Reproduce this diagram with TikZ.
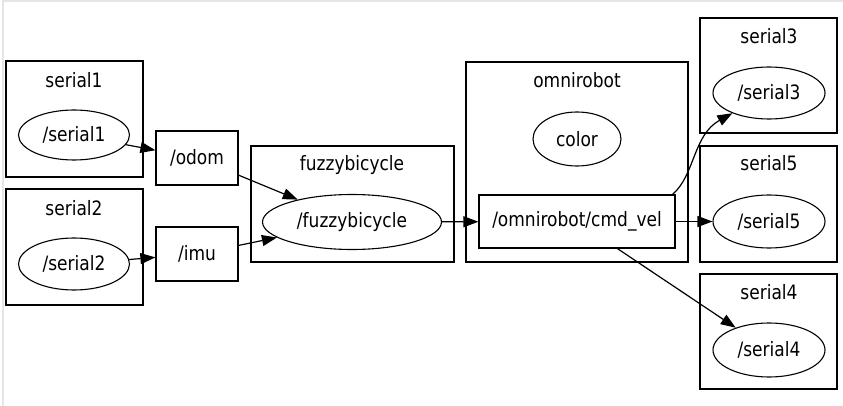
\documentclass[tikz,border=0pt]{standalone}
\usepackage{fontspec}
\setmainfont[FakeStretch=0.86]{DejaVu Sans}
\usetikzlibrary{shapes.geometric,arrows.meta}
\tikzset{
  txt/.style={font=\fontsize{19.8}{21}\selectfont},
  cluster/.style={draw, rectangle, line width=1.2pt, inner sep=0pt, outer sep=0pt, anchor=north west},
  clabel/.style={inner sep=0pt, txt},
  topic/.style={draw, rectangle, line width=1.2pt, inner sep=0pt, minimum height=54pt, txt},
  rosnode/.style={draw, ellipse, line width=1.1pt, inner sep=0pt, txt},
  conn/.style={-{Triangle[length=15pt,width=11pt]}, line width=1.2pt}
}
\begin{document}
\begin{tikzpicture}[x=1pt,y=-1pt]
\useasboundingbox (0,0) rectangle (843,406);
\fill[white] (0,0) rectangle (843,406);
% faint screenshot frame
\draw[black!10, line width=1.5pt] (3,406) -- (3,1) -- (843,1);

% clusters
\node[cluster, minimum width=137pt, minimum height=116pt] (c1) at (6,61) {};
\node[clabel] (c1l) at (74,80) {serial1};
\node[cluster, minimum width=137pt, minimum height=116pt] (c2) at (6,189) {};
\node[clabel] (c2l) at (74,208) {serial2};
\node[cluster, minimum width=203pt, minimum height=116pt] (cf) at (251,146) {};
\node[clabel] (cfl) at (352,165) {fuzzybicycle};
\node[cluster, minimum width=222pt, minimum height=200pt] (co) at (466,62) {};
\node[clabel] (col) at (577,80) {omnirobot};
\node[cluster, minimum width=137pt, minimum height=115pt] (c3) at (700,18) {};
\node[clabel] (c3l) at (769,36) {serial3};
\node[cluster, minimum width=137pt, minimum height=116pt] (c5) at (700,146) {};
\node[clabel] (c5l) at (769,163) {serial5};
\node[cluster, minimum width=137pt, minimum height=115pt] (c4) at (700,274) {};
\node[clabel] (c4l) at (769,292) {serial4};

% nodes
\node[rosnode, minimum width=111pt, minimum height=50pt] (s1) at (74,135) {/serial1};
\node[rosnode, minimum width=111pt, minimum height=52pt] (s2) at (74,264) {/serial2};
\node[topic, minimum width=82pt] (odom) at (197,158) {/odom};
\node[topic, minimum width=82pt] (imu) at (197,254) {/imu};
\node[rosnode, minimum width=179pt, minimum height=55pt] (fz) at (352,222) {/fuzzybicycle};
\node[rosnode, minimum width=88pt, minimum height=54pt] (color) at (577,139) {color};
\node[topic, minimum width=196pt, minimum height=53pt] (cmd) at (577,221.5) {/omnirobot/cmd\_vel};
\node[rosnode, minimum width=112pt, minimum height=52pt] (s3) at (769,93) {/serial3};
\node[rosnode, minimum width=112pt, minimum height=53pt] (s5) at (769,221.5) {/serial5};
\node[rosnode, minimum width=112pt, minimum height=54pt] (s4) at (769,350) {/serial4};

% connectors
\draw[conn] (s1) -- (odom);
\draw[conn] (s2) -- (imu);
\draw[conn] (odom) -- (fz);
\draw[conn] (imu) -- (fz);
\draw[conn] (fz) -- (cmd);
\draw[conn] (cmd) -- (s5);
\draw[conn] (cmd) -- (s4);
\coordinate (cmdout) at ([xshift=-3pt]cmd.north east);
\draw[conn] (cmdout) .. controls (695,175) and (693,135) .. (s3);
\end{tikzpicture}
\end{document}
